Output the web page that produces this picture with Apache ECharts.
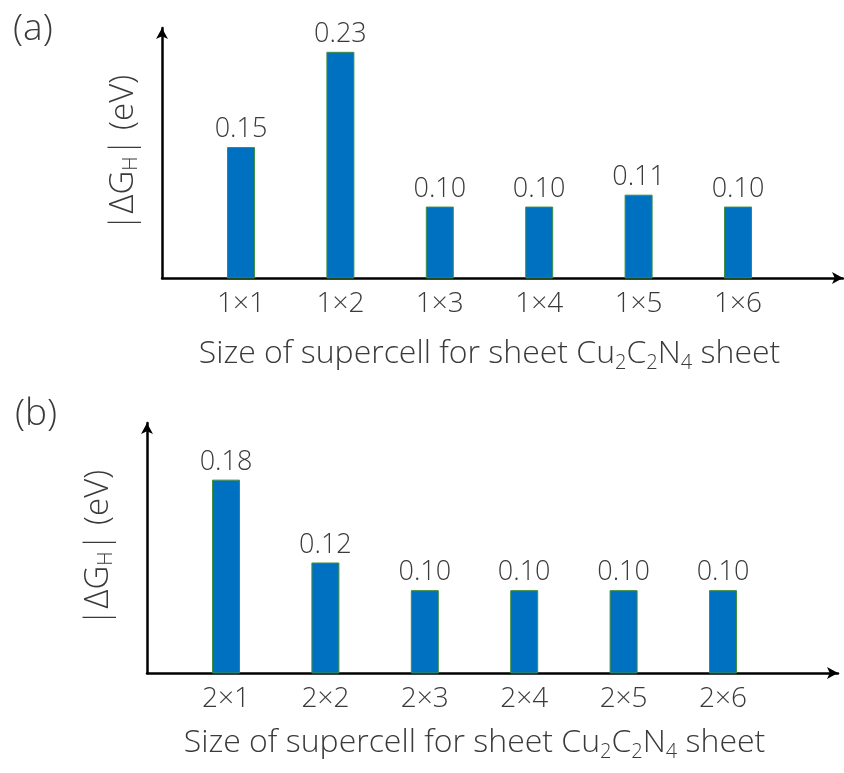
<!DOCTYPE html>
<html>
<head>
<meta charset="utf-8">
<script src="https://cdn.jsdelivr.net/npm/echarts@6/dist/echarts.min.js"></script>
<style>
html,body{margin:0;padding:0;background:#fff;}
#chart{width:844px;height:773px;}
</style>
</head>
<body>
<div id="chart"></div>
<script>
// ---- data ----
const categoriesA = ['1×1', '1×2', '1×3', '1×4', '1×5', '1×6'];
const valuesA = [0.15, 0.23, 0.10, 0.10, 0.11, 0.10];
const categoriesB = ['2×1', '2×2', '2×3', '2×4', '2×5', '2×6'];
const valuesB = [0.18, 0.12, 0.10, 0.10, 0.10, 0.10];
const panelLabels = ['(a)', '(b)'];
const xTitle = 'Size of supercell for sheet Cu{s|2}C{s|2}N{s|4} sheet';
const yTitle = '|ΔG{s|H}| (eV)';

const FONT = '"Open Sans", "Liberation Sans", sans-serif';
const TXT = '#3a3a3a';
const BAR = '#0070c0';
const BORDER = '#3f8f3f';

const chart = echarts.init(document.getElementById('chart'));

const richSub = {
  s: { fontSize: 20, padding: [18, 0, 0, 0], fontFamily: FONT, color: TXT, fontWeight: 300 }
};
const richSubY = {
  s: { fontSize: 20, padding: [15, 0, 0, 0], fontFamily: FONT, color: TXT, fontWeight: 300 }
};

function arrowAxisLine() {
  return {
    show: true,
    onZero: false,
    symbol: ['none', 'arrow'],
    symbolSize: [9, 11],
    lineStyle: { color: '#000', width: 2.5 }
  };
}

const grids = [
  { left: 162, right: 1, top: 28, bottom: 495 },            // axis frame (a)
  { left: 191.3, width: 596.4, top: 28, bottom: 495 },      // bars (a)
  { left: 147, right: 6, top: 423, bottom: 100 },           // axis frame (b)
  { left: 176.3, width: 596.4, top: 423, bottom: 100 }      // bars (b)
];

function frameX(gi) {
  return { type: 'value', gridIndex: gi, min: 0, max: 1, axisLine: arrowAxisLine(),
    axisTick: { show: false }, axisLabel: { show: false }, splitLine: { show: false } };
}
function frameY(gi, gap) {
  return { type: 'value', gridIndex: gi, min: 0, max: 1, axisLine: arrowAxisLine(),
    axisTick: { show: false }, axisLabel: { show: false }, splitLine: { show: false },
    name: yTitle, nameLocation: 'middle', nameGap: gap,
    nameTextStyle: { fontSize: 33, fontFamily: FONT, color: TXT, fontWeight: 300, rich: richSubY } };
}
function catX(gi, cats, gap) {
  return { type: 'category', gridIndex: gi, data: cats,
    axisLine: { show: false }, axisTick: { show: false },
    axisLabel: { fontSize: 28, fontFamily: FONT, color: TXT, margin: 12, fontWeight: 300 },
    name: xTitle, nameLocation: 'middle', nameGap: gap,
    nameTextStyle: { fontSize: 32, fontFamily: FONT, color: TXT, fontWeight: 300, rich: richSub } };
}
function valY(gi, mn, mx) {
  return { type: 'value', gridIndex: gi, min: mn, max: mx, show: false, splitLine: { show: false } };
}
function bars(xi, yi, vals) {
  return {
    type: 'bar', xAxisIndex: xi, yAxisIndex: yi, data: vals, barWidth: 28,
    itemStyle: { color: BAR, borderColor: BORDER, borderWidth: 1 },
    label: { show: true, position: 'top', distance: 4, fontSize: 27, fontFamily: FONT,
      color: TXT, fontWeight: 300, formatter: p => p.value.toFixed(2) },
    silent: true
  };
}

chart.setOption({
  backgroundColor: '#fff',
  animation: false,
  title: [
    { text: panelLabels[0], left: 8, top: 6, textStyle: { fontSize: 37, fontFamily: FONT, fontWeight: 300, color: TXT } },
    { text: panelLabels[1], left: 10, top: 391, textStyle: { fontSize: 37, fontFamily: FONT, fontWeight: 300, color: TXT } }
  ],
  grid: grids,
  xAxis: [frameX(0), catX(1, categoriesA, 57), frameX(2), catX(3, categoriesB, 51)],
  yAxis: [frameY(0, 21), valY(1, 0.04, 0.25), frameY(2, 31), valY(3, 0.04, 0.221)],
  series: [bars(1, 1, valuesA), bars(3, 3, valuesB)]
});
</script>
</body>
</html>
